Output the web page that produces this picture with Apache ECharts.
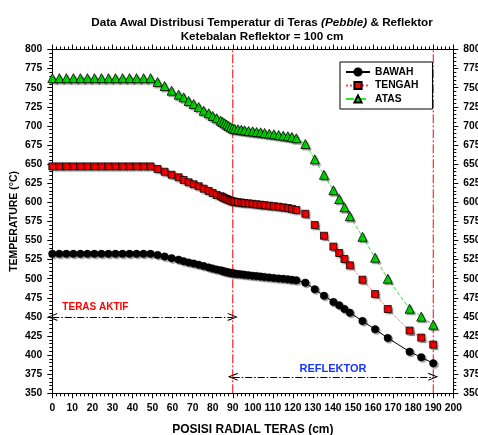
<!DOCTYPE html>
<html><head><meta charset="utf-8">
<script src="https://cdn.jsdelivr.net/npm/echarts@6/dist/echarts.min.js"></script>
<style>html,body{margin:0;padding:0;background:#fff}#c{width:478px;height:435px}</style>
</head><body><div id="c"></div>
<script>
const xs = [0,3.5,7,10.5,14,17.5,21,24.5,28,31.5,35,38.5,42,45.5,49,
  52.5,56,59.5,63,65.5,68,70.5,73,75.5,78,80,82,84,85,86,87,88,89,90,
  91,92.6,94.3,95.9,97.9,99.9,101.9,103.9,105.9,108.2,110.5,112.9,115.2,117.5,119.5,121.7,
  126.2,130.9,135.5,140.2,143.1,145.7,148.4,154.7,161,167.3,178.2,184,190];
const atas = [762.5,762.5,762.5,762.5,762.5,762.5,762.5,762.5,762.5,762.5,762.5,762.5,762.5,762.5,762.5,
  757.5,752.2,746.1,740.9,737.4,732.6,728.7,724.7,719.9,716.5,713,710,706.8,705.1,703.4,701.6,699.9,698.2,696.9,
  696,695.6,695,694.2,693.3,692.9,692,691.6,690.7,689.8,689,688.1,687.2,686.4,685.5,683.8,
  676.3,656.3,636,615.7,604.3,593.5,581.8,554.9,527.5,500,460.7,450.3,439.8];
const tengah = [647,647,647,647,647,647,647,647,647,647,647,647,647,647,647,
  643.6,640,636.1,632.7,629.2,626.2,623.6,621,617.8,614.8,612.2,609.6,607.9,606.6,605.2,604.3,603,602.1,601.2,
  600.8,600.2,599.6,599.1,598.6,598,597.4,596.8,596.2,595.6,594.9,594.2,593.4,592.5,591.4,590,
  585,570.2,556.2,542,533.6,525.8,517.5,498.7,480,460.3,432.1,422.9,413.7];
const bawah = [532.5,532.5,532.5,532.5,532.5,532.5,532.5,532.5,532.5,532.5,532.5,532.5,532.5,532.5,532.5,
  531.1,529,526.8,524.9,522.9,521.2,519.8,518.3,516.5,514.8,513.3,511.9,510.9,510.2,509.4,508.9,508.2,507.7,507.2,
  506.7,506.2,505.7,505.2,504.6,504,503.5,502.9,502.3,501.7,501,500.4,499.8,499.2,498.6,497.9,
  494.8,486.1,477.8,469.5,465.1,460.3,455.5,444.6,433.8,422.4,404.5,397.1,389.3];
const seriesNames = ['BAWAH','TENGAH','ATAS'];
const boundaries = [90, 190];
const yRange = [350, 800];
const zones = [
  {name:'TERAS AKTIF', from:0, to:90, y:450, labelX:21.5, labelY:462, color:'#ff0000', size:10},
  {name:'REFLEKTOR', from:90, to:190, y:371.5, labelX:140, labelY:382, color:'#1a35ff', size:11}
];

const F = 'Liberation Sans, Arial, sans-serif';
const lbl = {fontFamily:F, fontWeight:'bold', fontSize:10.3, color:'#000'};
const shadow = {shadowColor:'rgba(0,0,0,0.35)', shadowOffsetX:1.5, shadowOffsetY:1.5, shadowBlur:1};
const noShadow = {shadowColor:'rgba(0,0,0,0)', shadowBlur:0, shadowOffsetX:0, shadowOffsetY:0};
const chevron = 'path://M0,10 L5,0 L10,10 L8.6,10 L5,2.6 L1.4,10 Z';

function pts(arr){ return xs.map((x,i)=>[x, arr[i]]); }
function axisBase(){
  return {
    axisLine:{show:true, onZero:false, lineStyle:{color:'#000', width:1}},
    axisTick:{show:true, inside:false, length:5, lineStyle:{color:'#000'}},
    minorTick:{show:true, splitNumber:5, length:3, lineStyle:{color:'#000'}},
    splitLine:{show:false}
  };
}

const boundarySeries = boundaries.map((b,i)=>({
  name:'boundary'+i, type:'line', data:[[b, yRange[0]],[b, yRange[1]]], z:2,
  symbol:'none', silent:true,
  lineStyle:{color:'#ff0000', width:1, type:[9,2,2,2]},
  itemStyle:{color:'#ff0000'}
}));

const chart = echarts.init(document.getElementById('c'), null, {renderer:'canvas'});
chart.setOption({
  animation:false,
  backgroundColor:'#fff',
  title:{
    left:257, top:11, textAlign:'center',
    text:'{b|Data Awal Distribusi Temperatur di Teras }{i|(Pebble)}{b| & Reflektor}\n{b|Ketebalan Reflektor = 100 cm}',
    textStyle:{rich:{
      b:{fontFamily:F, fontWeight:'bold', fontSize:11.7, color:'#000', lineHeight:14},
      i:{fontFamily:F, fontWeight:'bold', fontStyle:'italic', fontSize:11.7, color:'#000', lineHeight:14}
    }}
  },
  legend:{
    data:seriesNames, orient:'vertical', left:340, top:62,
    itemWidth:24, itemHeight:9, itemGap:3.5,
    borderColor:'#000', borderWidth:1, borderRadius:0, padding:[5,14,5,5],
    textStyle:{fontFamily:F, fontWeight:'bold', fontSize:10.3, color:'#000'}
  },
  grid:{left:52.3, right:24.7, top:49.5, bottom:41.7, containLabel:false, outerBoundsMode:'none'},
  xAxis:[Object.assign(axisBase(), {
    type:'value', min:0, max:200, interval:10, position:'bottom',
    name:'POSISI RADIAL TERAS (cm)', nameLocation:'middle', nameGap:30, nameMoveOverlap:false,
    nameTextStyle:{fontFamily:F, fontWeight:'bold', fontSize:12, color:'#000'},
    axisLabel:Object.assign({margin:10}, lbl)
  }), Object.assign(axisBase(), {
    type:'value', min:0, max:200, interval:10, position:'top',
    axisLabel:{show:false}
  })],
  yAxis:[Object.assign(axisBase(), {
    type:'value', min:yRange[0], max:yRange[1], interval:25, position:'left',
    name:'TEMPERATURE (°C)', nameLocation:'middle', nameGap:33, nameMoveOverlap:false,
    nameTextStyle:{fontFamily:F, fontWeight:'bold', fontSize:10.5, color:'#000'},
    axisLabel:Object.assign({margin:10}, lbl)
  }), Object.assign(axisBase(), {
    type:'value', min:yRange[0], max:yRange[1], interval:25, position:'right',
    axisLabel:Object.assign({margin:10}, lbl)
  })],
  series:boundarySeries.concat([
    {
      name:'BAWAH', type:'line', data:pts(bawah), z:5,
      symbol:'circle', symbolSize:7.5,
      lineStyle:{color:'#000', width:1},
      itemStyle:Object.assign({color:'#000', borderColor:'#000', borderWidth:0.5}, shadow),
      markLine:{
        silent:true, animation:false,
        symbol:[chevron, chevron], symbolSize:[8,10],
        label:{show:false},
        itemStyle:Object.assign({color:'#000'}, noShadow),
        lineStyle:Object.assign({color:'#000', width:1, type:[7,2,1.5,2]}, noShadow),
        data:zones.map(z=>[{coord:[z.from, z.y]}, {coord:[z.to, z.y]}])
      },
      markPoint:{
        silent:true, symbol:'circle', symbolSize:0,
        itemStyle:noShadow,
        data:zones.map(z=>({coord:[z.labelX, z.labelY],
          label:{show:true, position:'inside', formatter:z.name, fontFamily:F, fontWeight:'bold',
                 fontSize:z.size, color:z.color}}))
      }
    },
    {
      name:'TENGAH', type:'line', data:pts(tengah), z:4,
      symbol:'rect', symbolSize:7,
      lineStyle:{color:'#ff4d4d', width:1, type:'dotted'},
      itemStyle:Object.assign({color:'#ff0000', borderColor:'#000', borderWidth:0.8}, shadow)
    },
    {
      name:'ATAS', type:'line', data:pts(atas), z:3,
      symbol:'triangle', symbolSize:9,
      lineStyle:{color:'#22ee22', width:1, type:'dashed'},
      itemStyle:Object.assign({color:'#00dd00', borderColor:'#000', borderWidth:0.8}, shadow)
    }
  ])
});
</script></body></html>
